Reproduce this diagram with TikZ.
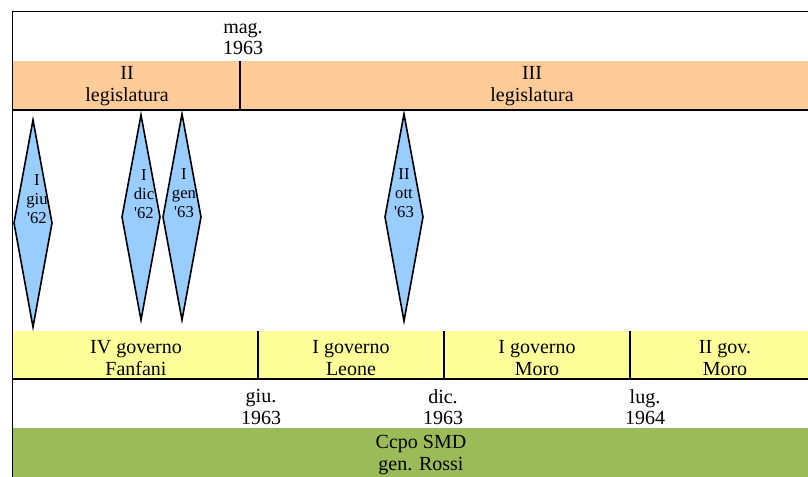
\documentclass[tikz,border=0pt]{standalone}
\usepackage{fontspec}
\setmainfont{Liberation Serif}
\definecolor{LegisOrange}{HTML}{FFCC99}
\definecolor{GovYellow}{HTML}{FFFF99}
\definecolor{CrisisBlue}{HTML}{99CCFF}
\definecolor{CmdGreen}{HTML}{9BBB59}
\newcommand{\ap}{\textquotesingle}
\tikzset{
  lbl/.style={align=center,inner sep=0pt,font=\fontsize{15}{16}\selectfont},
  crisis/.style={draw=black,fill=CrisisBlue,line width=1.2pt,line join=miter},
  crisislbl/.style={align=center,inner sep=0pt,font=\fontsize{12.5}{14.5}\selectfont},
  rule/.style={line width=1.2pt}
}
\begin{document}
\begin{tikzpicture}[x=0.75pt,y=-0.75pt]
\useasboundingbox (0,0) rectangle (808,477);
% bands
\fill[LegisOrange] (12,61) rectangle (808,110);
\fill[GovYellow] (12,331) rectangle (808,379);
\fill[CmdGreen] (12,428) rectangle (808,477);
% frame and dividers
\draw[rule] (12,11.5) -- (808,11.5);
\draw[rule] (12.5,11) -- (12.5,477);
\draw[rule] (12,110) -- (808,110);
\draw[rule] (240,61) -- (240,110);
\draw[rule] (12,379) -- (808,379);
\foreach \x in {258,444,630} {\draw[rule] (\x,331) -- (\x,379);}
% legislature
\node[lbl] (elez) at (243,39) {mag.\\1963};
\node[lbl] (leg2) at (127,86) {II\\legislatura};
\node[lbl] (leg3) at (532,86) {III\\legislatura};
% crises
\draw[crisis] (33,120) -- (52,223) -- (33,327) -- (14,223) -- cycle;
\node[crisislbl] (cr1) at (37,199) {I\\giu\\\ap62};
\draw[crisis] (141,115) -- (160,217) -- (141,320) -- (122,217) -- cycle;
\node[crisislbl] (cr2) at (144,194) {I\\dic\\\ap62};
\draw[crisis] (182,114) -- (201,217) -- (182,320) -- (163,217) -- cycle;
\node[crisislbl] (cr3) at (184,193) {I\\gen\\\ap63};
\draw[crisis] (404,114) -- (423,217) -- (404,321) -- (385,217) -- cycle;
\node[crisislbl] (cr4) at (404,193) {II\\ott\\\ap63};
% governments
\node[lbl] (gov1) at (136,358) {IV governo\\Fanfani};
\node[lbl] (gov2) at (351,358) {I governo\\Leone};
\node[lbl] (gov3) at (537,358) {I governo\\Moro};
\node[lbl] (gov4) at (725,358) {II gov.\\Moro};
% dates
\node[lbl] (d1) at (261,407) {giu.\\1963};
\node[lbl] (d2) at (443,407) {dic.\\1963};
\node[lbl] (d3) at (645,407) {lug.\\1964};
% command
\node[lbl] (ccpo) at (421,455) {Ccpo SMD\\gen. Rossi};
\end{tikzpicture}
\end{document}
